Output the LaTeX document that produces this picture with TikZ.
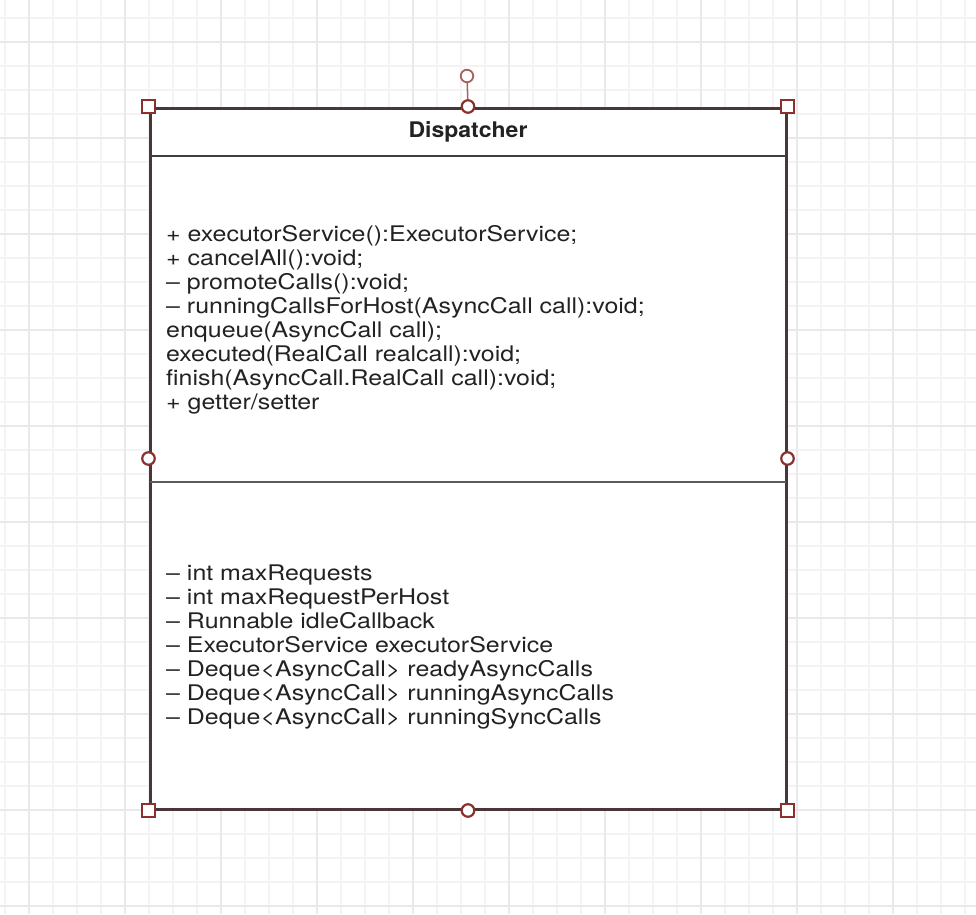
\documentclass[tikz,border=0pt]{standalone}
\usepackage{fontspec}
\setmainfont{TeX Gyre Heros}[FakeStretch=1.16]
\newfontfamily\titlefont{TeX Gyre Heros}[FakeStretch=1.07]
\definecolor{gridminor}{HTML}{F3F3F3}
\definecolor{gridmajor}{HTML}{E9E9E9}
\definecolor{boxline}{HTML}{4A3636}
\definecolor{divline}{HTML}{3E3E3E}
\definecolor{handle}{HTML}{8B3030}
\definecolor{rothandle}{HTML}{A86060}
\definecolor{txt}{HTML}{222222}
\tikzset{
  member/.style={anchor=base west, inner sep=0pt, text=txt, font=\fontsize{21.5}{24}\selectfont},
  titletext/.style={anchor=base, inner sep=0pt, text=txt, font=\titlefont\bfseries\fontsize{21.5}{24}\selectfont},
  sqhandle/.style={draw=handle, line width=2.2pt, fill=white, minimum size=12.5pt, inner sep=0pt, rectangle},
  cirhandle/.style={draw=handle, line width=2.2pt, fill=white, minimum size=12.5pt, inner sep=0pt, circle},
  rothandlestyle/.style={draw=rothandle, line width=1.8pt, fill=white, minimum size=12.5pt, inner sep=0pt, circle},
}
\begin{document}
\begin{tikzpicture}[x=1pt,y=-1pt]
\useasboundingbox (0,0) rectangle (976,914);
\fill[white] (0,0) rectangle (976,914);
% grid
\foreach \k in {0,...,40} {\draw[gridminor, line width=1.2pt] (5+24*\k,0) -- (5+24*\k,914);}
\foreach \k in {0,...,38} {\draw[gridminor, line width=1.2pt] (0,-6+24*\k) -- (976,-6+24*\k);}
\foreach \k in {0,...,9} {\draw[gridmajor, line width=1.4pt] (29+96*\k,0) -- (29+96*\k,914);}
\foreach \k in {0,...,9} {\draw[gridmajor, line width=1.4pt] (0,42+96*\k) -- (976,42+96*\k);}
% class box
\node[draw=boxline, line width=3pt, fill=white, rectangle, inner sep=0pt,
      minimum width=636pt, minimum height=701pt] (box) at (468,458.5) {};
\coordinate (d1l) at (150,156);
\coordinate (d1r) at (786,156);
\coordinate (d2l) at (150,482);
\coordinate (d2r) at (786,482);
\draw[divline, line width=2.6pt] (d1l) -- (d1r);
\draw[divline!85!white, line width=2.8pt] (d2l) -- (d2r);
% title
\node[titletext] (title) at (468,137) {Dispatcher};
% methods
\node[member] (m1) at (166,241) {+ executorService():ExecutorService;};
\node[member] (m2) at (166,265) {+ cancelAll():void;};
\node[member] (m3) at (166,289) {– promoteCalls():void;};
\node[member] (m4) at (166,313) {– runningCallsForHost(AsyncCall call):void;};
\node[member] (m5) at (166,337) {enqueue(AsyncCall call);};
\node[member] (m6) at (166,361) {executed(RealCall realcall):void;};
\node[member] (m7) at (166,385) {finish(AsyncCall.RealCall call):void;};
\node[member] (m8) at (166,409) {+ getter/setter};
% fields
\node[member] (f1) at (166,580) {– int maxRequests};
\node[member] (f2) at (166,604) {– int maxRequestPerHost};
\node[member] (f3) at (166,628) {– Runnable idleCallback};
\node[member] (f4) at (166,652) {– ExecutorService executorService};
\node[member] (f5) at (166,676) {– Deque<AsyncCall> readyAsyncCalls};
\node[member] (f6) at (166,700) {– Deque<AsyncCall> runningAsyncCalls};
\node[member] (f7) at (166,724) {– Deque<AsyncCall> runningSyncCalls};
% selection handles
\node[sqhandle] (hnw) at (box.north west) {};
\node[sqhandle] (hne) at (box.north east) {};
\node[sqhandle] (hsw) at (box.south west) {};
\node[sqhandle] (hse) at (box.south east) {};
\node[cirhandle] (hn) at (box.north) {};
\node[cirhandle] (hs) at (box.south) {};
\node[cirhandle] (hw) at (box.west) {};
\node[cirhandle] (he) at (box.east) {};
\node[rothandlestyle] (hrot) at (467,76) {};
\draw[rothandle, line width=1.5pt] (hrot) -- (hn);
\end{tikzpicture}
\end{document}
